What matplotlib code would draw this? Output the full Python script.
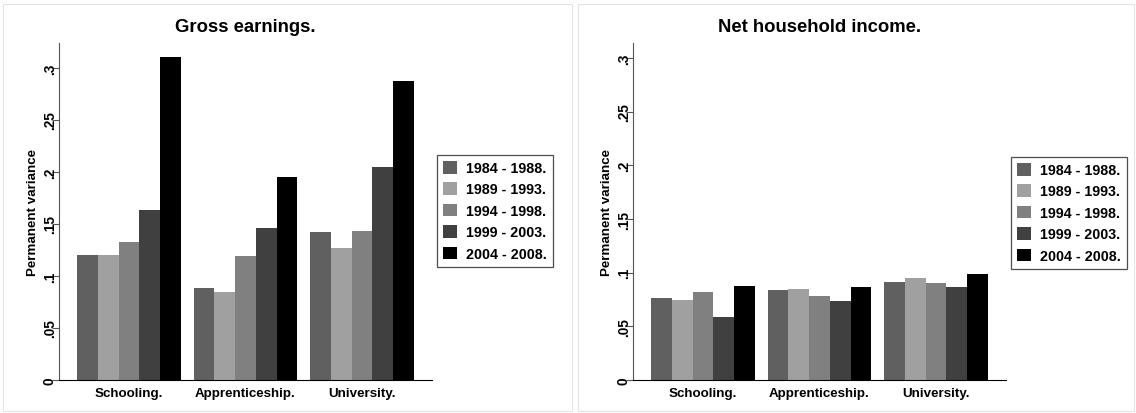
import matplotlib
matplotlib.use("Agg")
import matplotlib.pyplot as plt
import numpy as np
from matplotlib.patches import Rectangle
from matplotlib.ticker import FixedLocator, FixedFormatter

plt.rcParams['font.family'] = ['Liberation Sans', 'DejaVu Sans']
plt.rcParams['font.weight'] = 'bold'

categories = ["Schooling.", "Apprenticeship.", "University."]
periods = ["1984 - 1988.", "1989 - 1993.", "1994 - 1998.", "1999 - 2003.", "2004 - 2008."]
colors = ["#606060", "#a0a0a0", "#808080", "#404040", "#000000"]

gross_1984 = [0.120, 0.088, 0.142]
gross_1989 = [0.120, 0.085, 0.127]
gross_1994 = [0.133, 0.119, 0.143]
gross_1999 = [0.163, 0.146, 0.205]
gross_2004 = [0.311, 0.195, 0.287]

net_1984 = [0.076, 0.084, 0.091]
net_1989 = [0.075, 0.085, 0.095]
net_1994 = [0.082, 0.078, 0.090]
net_1999 = [0.059, 0.074, 0.087]
net_2004 = [0.088, 0.087, 0.099]

ytick_vals = [0, 0.05, 0.1, 0.15, 0.2, 0.25, 0.3]
ytick_labels = ["0", ".05", ".1", ".15", ".2", ".25", ".3"]

W, H = 1136, 414
fig = plt.figure(figsize=(W / 100, H / 100), dpi=100)

# panel frames
for (x0, x1) in [(3, 572), (578, 1134)]:
    fig.patches.append(Rectangle((x0 / W, 1 - 412 / H), (x1 - x0) / W, (412 - 5) / H,
                                 transform=fig.transFigure, fill=False,
                                 edgecolor="#e4e4e4", linewidth=0.8))

bw = 0.1785


def panel(left_px, series, title, ytop, legend_xy):
    ax = fig.add_axes([left_px / W, 1 - 381 / H, 373 / W, 337 / H])
    x = np.arange(len(categories))
    for i, (vals, c, lab) in enumerate(zip(series, colors, periods)):
        ax.bar(x + (i - 2) * bw, vals, width=bw, color=c, label=lab, linewidth=0)
    ax.set_xlim(-0.601, 2.601)
    ax.set_ylim(0, ytop)
    ax.spines['top'].set_visible(False)
    ax.spines['right'].set_visible(False)
    ax.spines['left'].set_color('#555555')
    ax.spines['bottom'].set_color('#000000')
    ax.yaxis.set_major_locator(FixedLocator(ytick_vals))
    ax.yaxis.set_major_formatter(FixedFormatter(ytick_labels))
    ax.tick_params(axis='y', labelrotation=90, length=5, width=0.8, color='#555555',
                   labelsize=9.8, pad=-3.5)
    for t in ax.get_yticklabels():
        t.set_va('center')
    ax.set_xticks(x)
    ax.set_xticklabels(categories, fontsize=9.6, fontweight='bold')
    ax.tick_params(axis='x', length=0, pad=5)
    ax.set_ylabel("Permanent variance", fontsize=9.6, fontweight='bold', labelpad=2.5)
    ax.set_title(title, fontsize=13.3, fontweight='bold', pad=9)
    handles, labels = ax.get_legend_handles_labels()
    leg = fig.legend(handles, labels, loc='upper left',
                     bbox_to_anchor=(legend_xy[0] / W, 1 - legend_xy[1] / H),
                     bbox_transform=fig.transFigure,
                     frameon=True, fancybox=False, edgecolor='#222222',
                     prop={'weight': 'bold', 'size': 10.3},
                     handlelength=1.0, handleheight=1.0, handletextpad=0.65,
                     labelspacing=0.5, borderpad=0.4, borderaxespad=0)
    leg.get_frame().set_linewidth(0.9)
    return ax


panel(59, [gross_1984, gross_1989, gross_1994, gross_1999, gross_2004],
      "Gross earnings.", 0.324, (437, 156))
panel(633, [net_1984, net_1989, net_1994, net_1999, net_2004],
      "Net household income.", 0.314, (1011, 158))

fig.savefig("out.png", dpi=100)
